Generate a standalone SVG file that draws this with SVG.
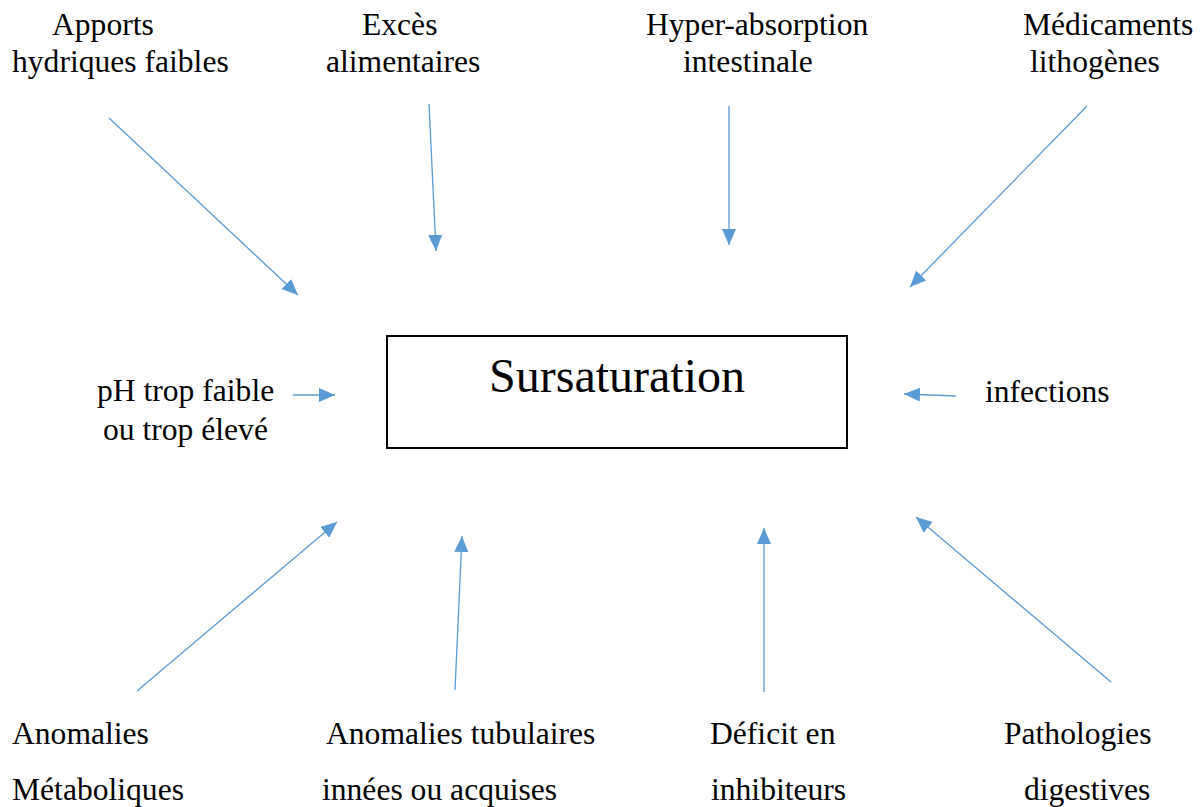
<svg xmlns="http://www.w3.org/2000/svg" width="1203" height="807" viewBox="0 0 1203 807">
<defs>
<marker id="ah" markerUnits="userSpaceOnUse" markerWidth="18" markerHeight="14" refX="16" refY="7" orient="auto">
<path d="M0,0 L16,7 L0,14 Z" fill="#5B9BD5"/>
</marker>
<style>
.t{font-family:"Liberation Serif","Times New Roman",serif;font-size:31.6px;fill:#000}
.c{stroke:#5B9BD5;stroke-width:1.3;fill:none;marker-end:url(#ah)}
</style>
</defs>
<rect width="1203" height="807" fill="#fff"/>
<g id="center">
<rect x="387" y="336" width="460" height="112" fill="#fff" stroke="#000" stroke-width="2"/>
<text x="617" y="392" text-anchor="middle" style="font-family:'Liberation Serif','Times New Roman',serif;font-size:48px">Sursaturation</text>
</g>
<g id="n1"><text class="t" x="52" y="35">Apports</text><text class="t" x="12" y="72">hydriques faibles</text></g>
<g id="n2"><text class="t" x="362" y="35">Excès</text><text class="t" x="326" y="72">alimentaires</text></g>
<g id="n3"><text class="t" x="646" y="35">Hyper-absorption</text><text class="t" x="683" y="72">intestinale</text></g>
<g id="n4"><text class="t" x="1023" y="35">Médicaments</text><text class="t" x="1030" y="72">lithogènes</text></g>
<g id="n5"><text class="t" x="97" y="401">pH trop faible</text><text class="t" x="103" y="440">ou trop élevé</text></g>
<g id="n6"><text class="t" x="985" y="402">infections</text></g>
<g id="n7"><text class="t" x="12" y="744">Anomalies</text><text class="t" x="12" y="800">Métaboliques</text></g>
<g id="n8"><text class="t" x="326" y="744">Anomalies tubulaires</text><text class="t" x="322" y="800">innées ou acquises</text></g>
<g id="n9"><text class="t" x="710" y="744">Déficit en</text><text class="t" x="711" y="800">inhibiteurs</text></g>
<g id="n10"><text class="t" x="1004" y="744">Pathologies</text><text class="t" x="1024" y="800">digestives</text></g>
<g id="connectors">
<line class="c" x1="109" y1="118" x2="298" y2="295"/>
<line class="c" x1="429" y1="104" x2="436" y2="251"/>
<line class="c" x1="729" y1="106" x2="729" y2="245"/>
<line class="c" x1="1087" y1="106" x2="910" y2="287"/>
<line class="c" x1="293" y1="395" x2="335" y2="395"/>
<line class="c" x1="956" y1="396" x2="904" y2="394"/>
<line class="c" x1="137" y1="691" x2="337" y2="522"/>
<line class="c" x1="455" y1="690" x2="462" y2="536"/>
<line class="c" x1="764" y1="692" x2="764" y2="528"/>
<line class="c" x1="1111" y1="682" x2="916" y2="517"/>
</g>
</svg>
